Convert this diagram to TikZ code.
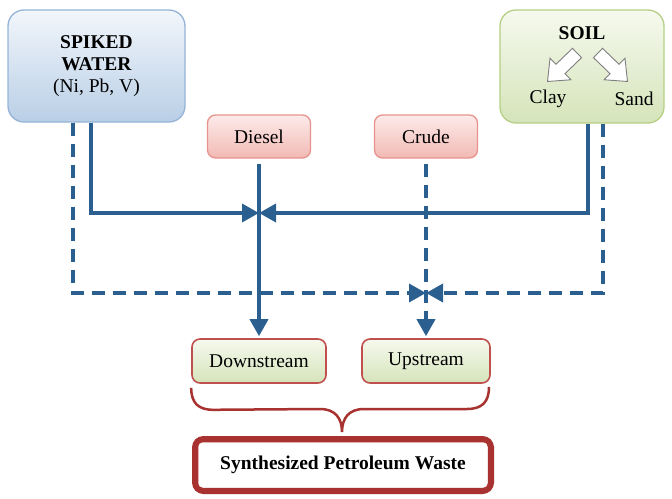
\documentclass[tikz,border=0pt]{standalone}
\usepackage{fontspec}
\setmainfont{Liberation Serif}
\usetikzlibrary{arrows.meta,calc}
\definecolor{flowc}{HTML}{2A5F8F}
\definecolor{bluetop}{HTML}{F2F6FB}
\definecolor{bluebot}{HTML}{B9CFE6}
\definecolor{blueedge}{HTML}{95B3D7}
\definecolor{greentop}{HTML}{F6F9EE}
\definecolor{greenbot}{HTML}{D5E4BA}
\definecolor{greenedge}{HTML}{B5CF84}
\definecolor{pinktop}{HTML}{FCEBEA}
\definecolor{pinkbot}{HTML}{F2B9B4}
\definecolor{pinkedge}{HTML}{E6938E}
\definecolor{rededge}{HTML}{C0504D}
\definecolor{wastec}{HTML}{A8322F}
\definecolor{arrowgray}{HTML}{7F7F7F}
\tikzset{
  txt/.style={font=\fontsize{19.5}{22}\selectfont, align=center, inner sep=0pt},
  bluebox/.style={txt, draw=blueedge, line width=1.3pt, top color=bluetop, bottom color=bluebot, rounded corners=16pt},
  greenbox/.style={txt, draw=greenedge, line width=1.3pt, top color=greentop, bottom color=greenbot, rounded corners=16pt},
  pinkbox/.style={txt, draw=pinkedge, line width=1.3pt, top color=pinktop, bottom color=pinkbot, rounded corners=8pt},
  streambox/.style={txt, draw=rededge, line width=1.6pt, top color=greentop, bottom color=greenbot, rounded corners=8pt},
  flow/.style={draw=flowc, line width=3.5pt, -{Triangle[length=17pt,width=18pt]}},
  flowdash/.style={flow, dash pattern=on 13pt off 8pt},
  blockarrow/.style={draw=arrowgray, line width=0.9pt, fill=white, line join=miter},
}
\begin{document}
\begin{tikzpicture}[x=1pt,y=-1pt]
\useasboundingbox (0,0) rectangle (672,498);

% top boxes
\node[bluebox, minimum width=177pt, minimum height=112pt] (spiked) at (96.5,66)
  {\textbf{SPIKED}\\\textbf{WATER}\\(Ni, Pb, V)};
\node[greenbox, minimum width=164pt, minimum height=113pt] (soil) at (582,66.5) {};
\node[txt] (soiltxt) at (582,33) {\textbf{SOIL}};
\node[txt] (clay) at (548,99) {Clay};
\node[txt] (sand) at (634,99) {Sand};

% block arrows inside SOIL
\begin{scope}[shift={(577,53)}, rotate=-136]
  \draw[blockarrow] (0,-6.5) -- (23,-6.5) -- (23,-15) -- (41,0) -- (23,15) -- (23,6.5) -- (0,6.5) -- cycle;
\end{scope}
\begin{scope}[shift={(598,53)}, rotate=-44]
  \draw[blockarrow] (0,-6.5) -- (23,-6.5) -- (23,-15) -- (41,0) -- (23,15) -- (23,6.5) -- (0,6.5) -- cycle;
\end{scope}

% fuel boxes
\node[pinkbox, minimum width=103pt, minimum height=43pt] (diesel) at (259,136.5) {Diesel};
\node[pinkbox, minimum width=103pt, minimum height=43pt] (crude) at (426,136.5) {Crude};

% stream boxes
\node[streambox, minimum width=134pt, minimum height=44pt] (down) at (259,361) {Downstream};
\node[streambox, minimum width=128pt, minimum height=44pt] (up) at (426,361) {Upstream};

% waste box
\node[txt, draw=wastec, line width=5pt, rounded corners=9pt, minimum width=297pt, minimum height=53pt, fill=white] (waste) at (343,465)
  {\textbf{Synthesized Petroleum Waste}};
\draw[wastec, line width=1.5pt, rounded corners=5pt]
  ($(waste.north west)+(5.5,5.5)$) rectangle ($(waste.south east)+(-5.5,-5.5)$);

% junctions
\coordinate (j1) at (259,213);
\coordinate (j2) at (426,293);

% solid connectors
\draw[flow] ($(spiked.south)+(-5.5,0)$) |- (j1);
\draw[flow] ($(soil.south)+(6,0)$) |- (j1);
\draw[flow, shorten <=5pt, shorten >=2pt] (diesel.south) -- (down.north);

% dashed connectors
\draw[flowdash] ($(spiked.south)+(-23.5,0)$) |- (j2);
\draw[flowdash] ($(soil.south)+(21,0)$) |- (j2);
\draw[flowdash, shorten <=5pt, shorten >=2pt] (crude.south) -- (up.north);

% brace
\draw[wastec, line width=2.5pt]
  (down.south west) ++(0,4) coordinate (bl)
  .. controls ($(bl)+(0,15)$) and ($(bl)+(7,22)$) .. ($(bl)+(22,22)$)
  -- (320,409) .. controls (335,409) and (342,418) .. (342,432) coordinate (btip)
  .. controls (342,418) and (349,409) .. (364,409)
  -- (467,409) .. controls (482,409) and (489,402) .. (489,387);
\end{tikzpicture}
\end{document}
